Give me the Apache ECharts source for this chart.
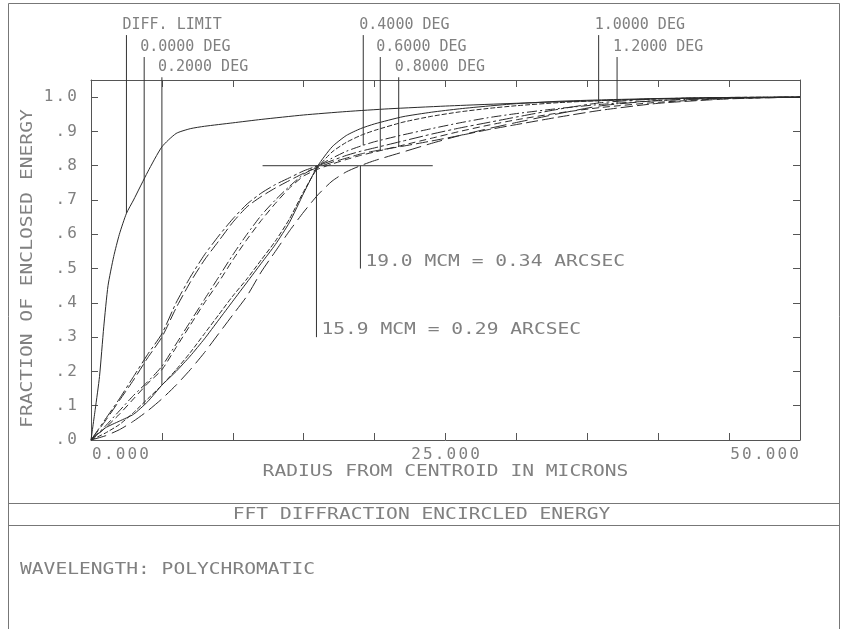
<!DOCTYPE html>
<html><head><meta charset="utf-8">
<script src="https://cdn.jsdelivr.net/npm/echarts@6/dist/echarts.min.js"></script>
<style>html,body{margin:0;padding:0;background:#fff}#c{width:843px;height:629px}</style>
</head><body><div id="c"></div>
<script>
// ---------- data ----------
const radius = [0,1,2,3,4,5,6,7,8,9,10,11,12,13,14,15,16,17,18,19,20,22,24,26,28,30,33,36,40,45,50];
const diffRadius = [0,0.3,0.6,0.9,1.2,1.6,2.0,2.5,3.0,4.0,5.0,6.0,7.0,8.0,10,12,15,18,21,25,28,32,36,40,45,50];
const diffLimit  = [0,0.09,0.185,0.33,0.45,0.535,0.60,0.661,0.70,0.782,0.855,0.894,0.908,0.915,0.925,0.935,0.948,0.958,0.966,0.974,0.979,0.985,0.99,0.995,0.998,1.0];
const field00 = [0,0.035,0.055,0.075,0.112,0.16,0.2,0.245,0.295,0.35,0.405,0.46,0.515,0.57,0.635,0.72,0.80,0.855,0.888,0.908,0.922,0.943,0.956,0.966,0.974,0.981,0.988,0.992,0.996,0.999,1.0];
const field02 = [0,0.02,0.045,0.08,0.12,0.16,0.205,0.255,0.31,0.365,0.42,0.47,0.525,0.58,0.645,0.725,0.795,0.84,0.868,0.888,0.903,0.927,0.944,0.957,0.967,0.975,0.984,0.99,0.995,0.999,1.0];
const field04 = [0,0.04,0.085,0.13,0.17,0.215,0.28,0.345,0.41,0.475,0.54,0.60,0.655,0.70,0.74,0.775,0.80,0.822,0.842,0.857,0.87,0.89,0.908,0.925,0.94,0.952,0.967,0.979,0.99,0.997,1.0];
const field06 = [0,0.035,0.075,0.12,0.165,0.205,0.27,0.335,0.40,0.46,0.525,0.585,0.64,0.69,0.735,0.77,0.79,0.805,0.818,0.83,0.84,0.86,0.88,0.9,0.918,0.934,0.954,0.97,0.985,0.996,1.0];
const field08 = [0,0.055,0.115,0.175,0.24,0.30,0.385,0.46,0.525,0.58,0.635,0.68,0.71,0.735,0.757,0.778,0.795,0.81,0.822,0.834,0.843,0.857,0.872,0.888,0.905,0.92,0.942,0.962,0.982,0.995,1.0];
const field10 = [0,0.06,0.12,0.185,0.25,0.31,0.40,0.475,0.54,0.595,0.645,0.688,0.72,0.745,0.765,0.785,0.80,0.815,0.83,0.842,0.852,0.872,0.892,0.91,0.926,0.942,0.965,0.984,0.995,0.999,1.0];
const field12 = [0,0.012,0.03,0.055,0.085,0.12,0.16,0.205,0.255,0.31,0.365,0.42,0.49,0.55,0.61,0.665,0.715,0.755,0.782,0.80,0.815,0.84,0.865,0.888,0.908,0.926,0.952,0.975,0.99,0.998,1.0];

const curveNames = ['DIFF. LIMIT','0.0000 DEG','0.2000 DEG','0.4000 DEG','0.6000 DEG','0.8000 DEG','1.0000 DEG','1.2000 DEG'];
const leaderX    = [2.5, 3.75, 5.0, 19.2, 20.4, 21.7, 35.8, 37.1];
const leaderRow  = [0, 1, 2, 0, 1, 2, 0, 1];
const labelRowLevel = [1.181, 1.117, 1.058];   // leader tops (data units)

const xTickLabels = {0:'0.000', 25:'25.000', 50:'50.000'};
const yTickLabels = ['.0','.1','.2','.3','.4','.5','.6','.7','.8','.9','1.0'];

const eeLevel = 0.8;
const eeRadius = [15.9, 19.0];
const eeArcsec = [0.29, 0.34];
const eeBottom = [0.30, 0.50];
const crossSpan = [12.1, 24.1];

const titleText = 'FFT DIFFRACTION ENCIRCLED ENERGY';
const infoText = 'WAVELENGTH: POLYCHROMATIC';
const xName = 'RADIUS FROM CENTROID IN MICRONS';
const yName = 'FRACTION OF ENCLOSED ENERGY';

// ---------- chart ----------
const FONT = 'DejaVu Sans Mono';
const TXT = '#808080';
const LINE = '#555';
const CURVE = '#2a2a2a';
const CELL = 11.8;

function spaced(s){ return s.split('').map(ch => '{c|' + ch + '}').join(''); }
function pairs(xs, ys){ return xs.map((x,i)=>[x, ys[i]]); }
function interp(xs, ys, x){
  for (let i=1;i<xs.length;i++){ if (x<=xs[i]){ const t=(x-xs[i-1])/(xs[i]-xs[i-1]); return ys[i-1]+t*(ys[i]-ys[i-1]); } }
  return ys[ys.length-1];
}

const curveX = [diffRadius, radius, radius, radius, radius, radius, radius, radius];
const curveY = [diffLimit, field00, field02, field04, field06, field08, field10, field12];
const dashes = ['solid', 'solid', [5,2], [10,3,2,3], [7,4], [12,4], [14,3,3,3], [16,6]];

const rich = { c: { width: CELL, align: 'center', fontFamily: FONT, fontSize: 16, color: TXT, lineHeight: 16 } };
const axisLine = { show: true, onZero: false, lineStyle: { color: LINE, width: 1 } };
const axisTick = { show: true, inside: true, length: 7, lineStyle: { color: LINE, width: 1 } };

const series = [];
curveY.forEach((ys, i) => {
  series.push({ type:'line', name: curveNames[i], data: pairs(curveX[i], ys), showSymbol:false, symbol:'none',
    smooth: 0.2, lineStyle: { color: CURVE, width: 1, type: dashes[i] }, silent: true, z: 3 });
});
// leaders
leaderX.forEach((x, i) => {
  const yEnd = interp(curveX[i], curveY[i], x);
  series.push({ type:'line', data: [[x, labelRowLevel[leaderRow[i]]], [x, yEnd]], symbol:'none', clip:false,
    lineStyle:{ color:'#333', width:1 }, silent:true, z: 4 });
});
// 80% crosshair
series.push({ type:'line', data: [[crossSpan[0], eeLevel],[crossSpan[1], eeLevel]], symbol:'none', clip:false,
  lineStyle:{ color:'#333', width:1 }, silent:true });
eeRadius.forEach((r,i) => {
  series.push({ type:'line', data: [[r, eeLevel],[r, eeBottom[i]]], symbol:'none', clip:false,
    lineStyle:{ color:'#333', width:1 }, silent:true });
});

const chart = echarts.init(document.getElementById('c'), null, { renderer: 'canvas' });
chart.setOption({
  animation: false,
  backgroundColor: '#fff',
  grid: { left: 91, right: 43, top: 80, bottom: 189, containLabel: false },
  xAxis: [
    { type:'value', min:0, max:50, interval:5, position:'bottom', axisLine, axisTick, splitLine:{show:false},
      axisLabel:{ margin: 7, rich, alignMinLabel:'left', alignMaxLabel:'right',
        formatter: v => (xTickLabels[v] !== undefined ? spaced(xTickLabels[v]) : '') } },
    { type:'value', min:0, max:50, interval:5, position:'top', axisLine, axisTick, splitLine:{show:false}, axisLabel:{show:false} }
  ],
  yAxis: [
    { type:'value', min:0, max:1.05, interval:0.1, position:'left', axisLine, axisTick, splitLine:{show:false},
      axisLabel:{ margin: 13, rich, showMaxLabel: false,
        formatter: v => { const k = Math.round(v*10); return (Math.abs(v*10-k) < 1e-6 && yTickLabels[k]) ? spaced(yTickLabels[k]) : ''; } } },
    { type:'value', min:0, max:1.05, interval:0.1, position:'right', axisLine, axisTick, splitLine:{show:false}, axisLabel:{show:false} }
  ],
  series
});

function px(x, y){ return chart.convertToPixel({ xAxisIndex:0, yAxisIndex:0 }, [x, y]); }
const SX = CELL / (0.602 * 16);
function bigText(text, x, y, align, extra){
  return Object.assign({ type:'text', x, y, scaleX: SX, silent:true,
    style:{ text, fontFamily: FONT, fontSize: 16, fill: TXT, align: align || 'left', verticalAlign:'middle' } }, extra || {});
}
const graphics = [
  { type:'rect', shape:{ x: 8.5, y: 3.5, width: 831, height: 700 }, style:{ fill:'none', stroke:'#777', lineWidth:1 }, silent:true },
  { type:'line', shape:{ x1: 8.5, y1: 503.5, x2: 839.5, y2: 503.5 }, style:{ stroke:'#777', lineWidth:1 }, silent:true },
  { type:'line', shape:{ x1: 8.5, y1: 525.5, x2: 839.5, y2: 525.5 }, style:{ stroke:'#777', lineWidth:1 }, silent:true },
  bigText(titleText, 421.5, 515, 'center'),
  bigText(infoText, 20, 570, 'left'),
];
const c0 = px(0, 0), c50 = px(50, 1);
graphics.push(bigText(xName, (c0[0] + c50[0]) / 2, 472, 'center'));
graphics.push(bigText(yName, 28, (c0[1] + c50[1]) / 2, 'center', { rotation: Math.PI / 2 }));

leaderX.forEach((x, i) => {
  const p = px(x, labelRowLevel[leaderRow[i]]);
  graphics.push({ type:'text', x: p[0] - 4, y: p[1] - 10, silent:true,
    style:{ text: curveNames[i], fontFamily: FONT, fontSize: 15, fill: TXT, align:'left', verticalAlign:'middle' } });
});
eeRadius.forEach((r, i) => {
  const p = px(r, eeBottom[i]);
  graphics.push(bigText(r.toFixed(1) + ' MCM = ' + eeArcsec[i].toFixed(2) + ' ARCSEC', p[0] + 5, p[1] - 7, 'left'));
});
chart.setOption({ graphic: graphics });
</script>
</body></html>
